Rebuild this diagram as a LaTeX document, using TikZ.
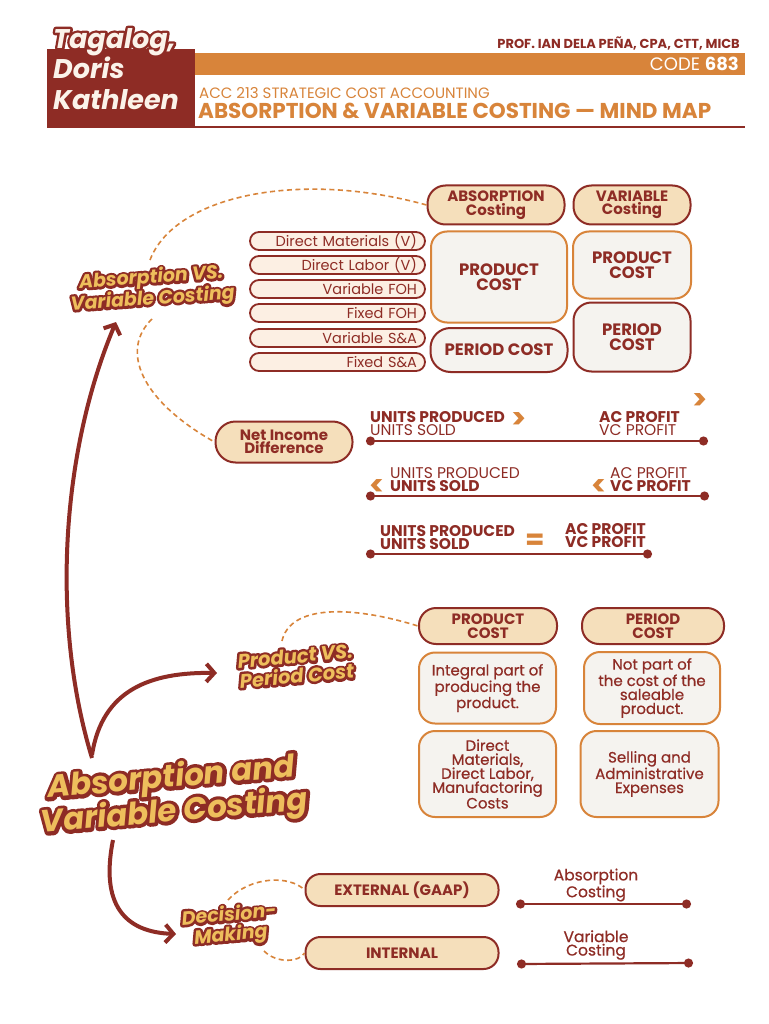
\documentclass[tikz,border=0pt]{standalone}
\usepackage{fontspec}
\setmainfont{Poppins}
\newfontfamily\medfont{Poppins}[FakeBold=0.6]
\usetikzlibrary{arrows.meta}
\definecolor{dred}{HTML}{8E2C25}
\definecolor{orng}{HTML}{D8843A}
\definecolor{cream}{HTML}{F5DFBB}
\definecolor{lgrey}{HTML}{F5F3EF}
\definecolor{pinkf}{HTML}{FCEFE3}
\definecolor{yel}{HTML}{EEBE5C}
\definecolor{offw}{HTML}{FBF3EA}
\newcommand\fsz[2]{\fontsize{#1}{#2}\selectfont}
% heavy stroked text (fill and stroke in the current colour): used as the outline layer
\newcommand\heavy[2]{\special{pdf:literal direct #1 w 1 j 2 Tr}#2\special{pdf:literal direct 0 Tr}}
\begin{document}
\begin{tikzpicture}[x=1pt,y=-1pt,
  hdr/.style={draw=dred,line width=2pt,fill=cream,text=dred,font=\bfseries\fsz{15}{13.5},align=center,inner sep=0pt},
  cbox/.style={draw=orng,line width=2pt,fill=lgrey,rounded corners=16pt,text=dred,font=\bfseries\fsz{16.5}{14.5},align=center,inner sep=0pt},
  rbox/.style={cbox,draw=dred},
  tbox/.style={draw=orng,line width=2pt,fill=lgrey,rounded corners=16pt,text=dred,font=\medfont\fsz{15}{14},align=center,inner sep=0pt},
  item/.style={draw=dred,line width=1.8pt,fill=pinkf,rounded corners=9pt,text=dred,font=\fsz{14.5}{14},align=right,text width=159pt,inner xsep=8pt,inner ysep=0pt,minimum height=18pt},
  dline/.style={dred,line width=2.2pt,{Circle[length=9pt]}-{Circle[length=9pt]}},
  odash/.style={orng,line width=1.6pt,dash pattern=on 5pt off 3.5pt},
  bigarr/.style={dred,line width=4pt,-{Straight Barb[length=8pt,width=18pt]}},
  retro/.style={text=yel,align=center,inner sep=0pt},
  retroout/.style={retro,text=dred},
  lab/.style={text=dred,inner sep=0pt,anchor=base west,font=\fsz{15.5}{15}},
  blab/.style={lab,font=\bfseries\fsz{15.5}{15}},
  sym/.style={text=orng,inner sep=0pt,anchor=base west,font=\bfseries\fsz{28}{28}}
]
\useasboundingbox (0,0) rectangle (768,1024);
\fill[white] (0,0) rectangle (768,1024);

% ---------- header ----------
\node[fill=dred,minimum width=148pt,minimum height=78pt,inner sep=0pt,anchor=north west] (namebox) at (47,49) {};
\node[fill=orng,minimum width=550pt,minimum height=22pt,inner sep=0pt,anchor=north west] (bar) at (195,53) {};
\coordinate (ula) at (47,127);
\coordinate (ulb) at (745,127);
\draw[dred,line width=1.5pt] (ula) -- (ulb);
\node[anchor=base east,text=dred,inner sep=0pt,font=\bfseries\fsz{13}{13}] (prof) at (740,49) {PROF. IAN DELA PEÑA, CPA, CTT, MICB};
\node[anchor=base east,text=white,inner sep=0pt,font=\fsz{18}{18}] (code) at (739,71) {CODE \textbf{683}};
\node[anchor=base west,text=orng,inner sep=0pt,font=\fsz{15}{15}] (acc) at (199,99) {ACC 213 STRATEGIC COST ACCOUNTING};
\node[anchor=base west,text=orng,inner sep=0pt,font=\bfseries\fsz{21.5}{21.5}] (ttl) at (198,119) {ABSORPTION \& VARIABLE COSTING — MIND MAP};
\node[anchor=north west,text=dred,inner sep=0pt,align=left,font=\bfseries\itshape\fsz{27}{30.5}] (nameo) at (53,28)
  {\heavy{5}{Tagalog,}\\\heavy{5}{Doris}\\\heavy{5}{Kathleen}};
\node[anchor=north west,text=offw,inner sep=0pt,align=left,font=\bfseries\itshape\fsz{27}{30.5}] (name) at (nameo.north west)
  {Tagalog,\\Doris\\Kathleen};

% ---------- section 1 ----------
\node[retroout,rotate=4,font=\bfseries\itshape\fsz{19}{20}] (s1o) at (152,289)
  {\heavy{5}{Absorption VS.}\\\heavy{5}{Variable Costing}};
\node[retro,rotate=4,font=\bfseries\itshape\fsz{19}{20}] (s1) at (s1o.center)
  {Absorption VS.\\Variable Costing};

\node[hdr,rounded corners=18pt,minimum width=137pt,minimum height=39pt] (absh) at (496,205) {ABSORPTION\\Costing};
\node[hdr,rounded corners=18pt,minimum width=117pt,minimum height=39pt] (varh) at (632,205) {VARIABLE\\Costing};

\node[item] (i1) at (337.5,241) {Direct Materials (V)};
\node[item] (i2) at (337.5,265) {Direct Labor (V)};
\node[item] (i3) at (337.5,289) {Variable FOH};
\node[item] (i4) at (337.5,313) {Fixed FOH};
\node[item] (i5) at (337.5,338) {Variable S\&A};
\node[item] (i6) at (337.5,362) {Fixed S\&A};

\node[cbox,minimum width=136pt,minimum height=91pt] (aprod) at (499,277) {PRODUCT\\COST};
\node[rbox,rounded corners=20pt,minimum width=137pt,minimum height=44pt] (aper) at (499,350) {PERIOD COST};
\node[cbox,minimum width=118pt,minimum height=67pt] (vprod) at (632,265) {PRODUCT\\COST};
\node[rbox,rounded corners=18pt,minimum width=117pt,minimum height=69pt] (vper) at (632,337) {PERIOD\\COST};

\coordinate (d1s) at (150,260);
\draw[odash] (d1s) .. controls (175,195) and (300,170) .. (absh.west);

% net income
\node[hdr,rounded corners=20pt,minimum width=137pt,minimum height=41pt] (nid) at (284,442) {Net Income\\Difference};
\coordinate (d2s) at (152,319);
\draw[odash] (d2s) .. controls (120,350) and (140,400) .. (nid.west);

\coordinate (l1a) at (366,441);
\coordinate (l1b) at (708,441);
\draw[dline] (l1a) -- (l1b);
\node[blab] (u1a) at (370,422) {UNITS PRODUCED};
\node[sym] (g1a) at (511,428) {>};
\node[lab] (u1b) at (370,435) {UNITS SOLD};
\node[blab] (p1a) at (599,422) {AC PROFIT};
\node[lab] (p1b) at (599,435) {VC PROFIT};
\node[sym] (g1b) at (692,409) {>};

\coordinate (l2a) at (366,496);
\coordinate (l2b) at (709,496);
\draw[dline] (l2a) -- (l2b);
\node[sym] (g2a) at (369,495) {<};
\node[lab] (u2a) at (390,478) {UNITS PRODUCED};
\node[blab] (u2b) at (390,491) {UNITS SOLD};
\node[sym] (g2b) at (591,495) {<};
\node[lab] (p2a) at (610,478) {AC PROFIT};
\node[blab] (p2b) at (610,491) {VC PROFIT};

\coordinate (l3a) at (366,554);
\coordinate (l3b) at (652,554);
\draw[dline] (l3a) -- (l3b);
\node[blab] (u3a) at (380,536) {UNITS PRODUCED};
\node[blab] (u3b) at (380,549) {UNITS SOLD};
\node[sym] (e3) at (525,549) {=};
\node[blab] (p3a) at (565,534) {AC PROFIT};
\node[blab] (p3b) at (565,547) {VC PROFIT};

% ---------- section 2 ----------
\node[retroout,rotate=5,font=\bfseries\itshape\fsz{19.5}{20}] (s2o) at (296,666)
  {\heavy{5}{Product VS.}\\\heavy{5}{Period Cost}};
\node[retro,rotate=5,font=\bfseries\itshape\fsz{19.5}{20}] (s2) at (s2o.center)
  {Product VS.\\Period Cost};
\node[hdr,rounded corners=17pt,minimum width=138pt,minimum height=36pt] (pch) at (488,626) {PRODUCT\\COST};
\node[hdr,rounded corners=17pt,minimum width=142pt,minimum height=36pt] (peh) at (653,626) {PERIOD\\COST};
\node[tbox,minimum width=137pt,minimum height=71pt] (pc1) at (487.5,688) {Integral part of\\producing the\\product.};
\node[tbox,minimum width=136pt,minimum height=72pt] (pe1) at (652,688) {Not part of\\the cost of the\\saleable\\product.};
\node[tbox,minimum width=137pt,minimum height=86pt] (pc2) at (487.5,774) {Direct\\Materials,\\Direct Labor,\\Manufactoring\\Costs};
\node[tbox,minimum width=138pt,minimum height=86pt] (pe2) at (649.5,774) {Selling and\\Administrative\\Expenses};
\coordinate (d3s) at (282,641);
\draw[odash] (d3s) .. controls (290,605) and (350,605) .. (pch.west);

% ---------- main title ----------
\node[retroout,rotate=5,font=\bfseries\itshape\fsz{31}{33}] (maino) at (173,796)
  {\heavy{7}{Absorption and}\\\heavy{7}{Variable Costing}};
\node[retro,rotate=5,font=\bfseries\itshape\fsz{31}{33}] (main) at (maino.center)
  {Absorption and\\Variable Costing};

\coordinate (a1s) at (92,758);
\coordinate (a1e) at (116,322);
\draw[bigarr] (a1s) .. controls (50,620) and (62,450) .. (a1e);
\coordinate (a2s) at (92,755);
\coordinate (a2e) at (217,673);
\draw[bigarr] (a2s) .. controls (102,690) and (150,672) .. (a2e);
\coordinate (a3s) at (113,840);
\coordinate (a3e) at (176,934);
\draw[bigarr] (a3s) .. controls (100,905) and (125,932) .. (a3e);

% ---------- section 3 ----------
\node[retroout,rotate=5,font=\bfseries\itshape\fsz{19}{20}] (s3o) at (230,926)
  {\heavy{5}{Decision-}\\\heavy{5}{Making}};
\node[retro,rotate=5,font=\bfseries\itshape\fsz{19}{20}] (s3) at (s3o.center)
  {Decision-\\Making};
\node[hdr,rounded corners=15pt,minimum width=193pt,minimum height=32pt] (ext) at (402,890) {EXTERNAL (GAAP)};
\node[hdr,rounded corners=15pt,minimum width=193pt,minimum height=32pt] (int) at (402,953) {INTERNAL};
\coordinate (d4s) at (228,900);
\draw[odash] (d4s) .. controls (250,876) and (290,875) .. (ext.west);
\coordinate (d5s) at (264,951);
\draw[odash] (d5s) .. controls (277,964) and (300,962) .. (int.west);

\coordinate (l4a) at (516,904);
\coordinate (l4b) at (691,904);
\draw[dline] (l4a) -- (l4b);
\node[text=dred,align=center,inner sep=0pt,font=\medfont\fsz{15.5}{13.5}] (abc) at (596,885) {Absorption\\Costing};
\coordinate (l5a) at (517,964);
\coordinate (l5b) at (693,963);
\draw[dline] (l5a) -- (l5b);
\node[text=dred,align=center,inner sep=0pt,font=\medfont\fsz{15.5}{13.5}] (vbc) at (596,945) {Variable\\Costing};
\end{tikzpicture}
\end{document}
